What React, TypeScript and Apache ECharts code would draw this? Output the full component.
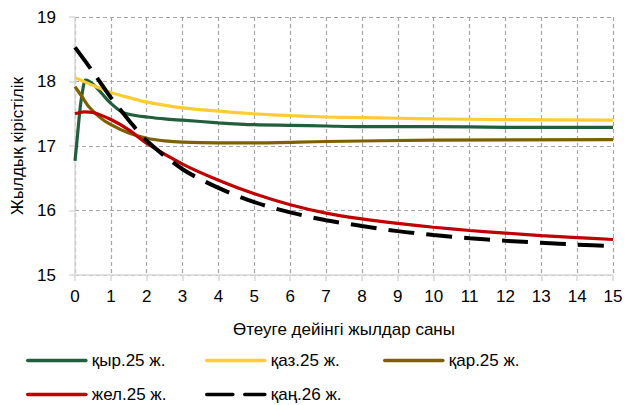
import React, { useEffect, useRef } from "react";
import * as echarts from "echarts";

const xTicks = [0, 15];
const yRange = [15, 19];

const greenName = "қыр.25 ж.";
const greenX = [0, 0.05, 0.1, 0.15, 0.22, 0.29, 0.4, 0.5, 0.66, 0.8, 1, 1.3, 1.6, 2, 2.5, 3, 4, 5, 6, 7, 8, 10, 12, 15];
const greenY = [16.77, 17.05, 17.35, 17.62, 17.88, 18.02, 18.0, 17.96, 17.87, 17.78, 17.66, 17.53, 17.48, 17.45, 17.42, 17.4, 17.36, 17.33, 17.32, 17.31, 17.3, 17.3, 17.29, 17.29];

const yellowName = "қаз.25 ж.";
const yellowX = [0, 0.5, 1, 1.5, 2, 3, 4, 5, 6, 7, 8, 9, 10, 12, 15];
const yellowY = [18.06, 17.94, 17.83, 17.75, 17.68, 17.59, 17.54, 17.5, 17.47, 17.45, 17.44, 17.43, 17.42, 17.41, 17.4];

const brownName = "қар.25 ж.";
const brownX = [0, 0.2, 0.4, 0.7, 1, 1.5, 2, 2.5, 3, 4, 5, 7, 10, 15];
const brownY = [17.92, 17.76, 17.6, 17.44, 17.33, 17.2, 17.12, 17.08, 17.06, 17.05, 17.05, 17.07, 17.09, 17.1];

const redName = "жел.25 ж.";
const redX = [0, 0.25, 0.5, 1, 1.5, 2, 3, 4, 5, 6, 7, 8, 9, 10, 11, 12, 13, 14, 15];
const redY = [17.5, 17.53, 17.52, 17.41, 17.25, 17.04, 16.72, 16.47, 16.26, 16.09, 15.96, 15.87, 15.8, 15.74, 15.69, 15.65, 15.61, 15.58, 15.55];

const blackName = "қаң.26 ж.";
const blackX = [0, 0.5, 1, 1.5, 2, 3, 4, 5, 6, 7, 8, 9, 10, 11, 12, 13, 14, 15];
const blackY = [18.53, 18.15, 17.75, 17.4, 17.08, 16.64, 16.35, 16.13, 15.97, 15.85, 15.76, 15.68, 15.62, 15.57, 15.53, 15.5, 15.47, 15.45];

const xTitle = "Өтеуге дейінгі жылдар саны";
const yTitle = "Жылдық кірістілік";

const FONT = "Liberation Sans";

function pairs(xs: number[], ys: number[]) {
  return xs.map((x, i) => [x, ys[i]]);
}

export default function App() {
  const ref = useRef<HTMLDivElement>(null);
  useEffect(() => {
    if (!ref.current) return;
    const chart = echarts.init(ref.current, null, { renderer: "svg" });
    const mk = (name: string, xs: number[], ys: number[], color: string, width: number, dash?: any) => ({
      name,
      type: "line",
      data: pairs(xs, ys),
      smooth: 0.3,
      symbol: "none",
      showSymbol: false,
      lineStyle: { color, width, type: dash || "solid", cap: "butt" },
      itemStyle: { color },
    });
    const legendAt = (name: string, left: number, top: number) => ({
      data: [name],
      left,
      top,
      padding: 0,
      itemWidth: 58,
      itemHeight: 14,
      itemGap: 0,
      itemStyle: { opacity: 0 },
      lineStyle: { cap: "round", width: 3.6 },
      textStyle: { fontFamily: FONT, fontSize: 17, lineHeight: 16, color: "#000", padding: [0, 0, 0, 1] },
      selectedMode: false,
    });
    chart.setOption({
      animation: false,
      backgroundColor: "#fff",
      textStyle: { fontFamily: FONT },
      grid: { left: 75, right: 13, top: 17, bottom: 130 },
      legend: [
        legendAt(greenName, 26, 352),
        legendAt(yellowName, 205, 352),
        legendAt(brownName, 383, 352),
        legendAt(redName, 26, 386),
        legendAt(blackName, 205, 386),
      ],
      xAxis: {
        type: "value",
        min: xTicks[0],
        max: xTicks[1],
        interval: 1,
        name: xTitle,
        nameLocation: "middle",
        nameGap: 46,
        nameTextStyle: { fontFamily: FONT, fontSize: 17, color: "#000" },
        axisLine: { show: true, lineStyle: { color: "#D9D9D9", width: 1.5 } },
        axisTick: { show: true, length: 6, lineStyle: { color: "#D9D9D9", width: 1.5 } },
        axisLabel: { margin: 13, fontFamily: FONT, fontSize: 17, color: "#000" },
        splitLine: { show: true, lineStyle: { color: "#A6A6A6", type: [4, 3], width: 1.2 } },
      },
      yAxis: {
        type: "value",
        min: yRange[0],
        max: yRange[1],
        interval: 1,
        name: yTitle,
        nameLocation: "middle",
        nameGap: 44,
        nameTextStyle: { fontFamily: FONT, fontSize: 17, color: "#000" },
        axisLine: { show: true, lineStyle: { color: "#D9D9D9", width: 1.5 } },
        axisTick: { show: true, length: 6, lineStyle: { color: "#D9D9D9", width: 1.5 } },
        axisLabel: { margin: 19, fontFamily: FONT, fontSize: 17, color: "#000" },
        splitLine: { show: true, lineStyle: { color: "#A6A6A6", type: [4, 3], width: 1.2 } },
      },
      series: [
        mk(greenName, greenX, greenY, "#215E3C", 3.2),
        mk(yellowName, yellowX, yellowY, "#FFCC33", 3.2),
        mk(brownName, brownX, brownY, "#7F6000", 3.2),
        mk(redName, redX, redY, "#C00000", 3.2),
        mk(blackName, blackX, blackY, "#000000", 4, [26, 12]),
      ],
    });
    return () => chart.dispose();
  }, []);
  return (
    <div
      ref={ref}
      style={{ position: "fixed", left: 0, top: 0, width: 626, height: 405 }}
    />
  );
}
